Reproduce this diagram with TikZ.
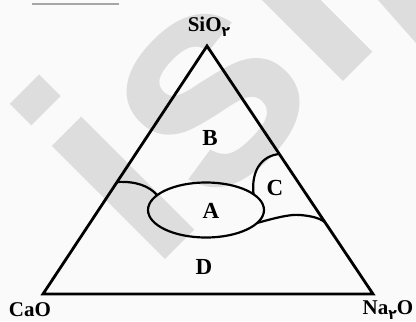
\documentclass[tikz,border=0pt]{standalone}
\usepackage{fontspec}
\setmainfont{Liberation Serif}
\newfontfamily\wmfont{Liberation Sans}
\newfontfamily\arabicfont[Script=Arabic]{DejaVu Sans}
\usetikzlibrary{positioning}
\definecolor{wmgray}{RGB}{221,221,221}
\definecolor{bggray}{RGB}{250,250,250}
\newcommand{\faTwo}{\raisebox{-0.5ex}{\fontsize{7}{8}\selectfont\arabicfont ۲}}

\begin{document}
\begin{tikzpicture}[x=0.5pt,y=-0.5pt,every node/.style={font=\bfseries\fontsize{10.5}{12}\selectfont}]
\tikzstyle{border}=[line width=1.4pt,line join=miter]
\tikzstyle{phase}=[line width=1.1pt]
\tikzstyle{region}=[inner sep=0pt,font=\bfseries\fontsize{11.5}{13}\selectfont]
\useasboundingbox[fill=bggray] (0,0) rectangle (416,321);
% watermark
\begin{scope}
\clip (0,0) rectangle (416,321);
\node[text=wmgray,font=\wmfont\bfseries\fontsize{151.5}{151.5}\selectfont,anchor=base west,inner sep=0pt,rotate=45] (wm) at (150,275) {isi};
\fill[wmgray] (378,0) -- (416,0) -- (416,43) -- cycle;
\end{scope}
\draw[gray!70,line width=1pt] (32,4) -- (119,4);
% triangle
\coordinate (top) at (207,46);
\coordinate (cao) at (43,294);
\coordinate (na) at (373,294);
\draw[border] (top) -- (na) -- (cao) -- cycle;
\node (sio) at (209,27) {SiO\faTwo};
\node (caol) at (30,310) {CaO};
\node (nal) at (388,310) {Na\faTwo O};
% phase fields
\draw[phase] (206,210) ellipse [x radius=58,y radius=27.5];
\coordinate (p1) at (117,182);
\coordinate (j1) at (157,195);
\coordinate (q1) at (279,154);
\coordinate (j2) at (253.5,194);
\coordinate (j3) at (257,223);
\coordinate (q2) at (325,222);
\draw[phase] (p1) .. controls (136,181) and (149,186) .. (j1);
\draw[phase] (q1) .. controls (262,156) and (251,170) .. (j2);
\draw[phase] (j3) .. controls (275,218) and (290,214) .. (300,215) .. controls (312,216) and (319,218) .. (q2);
\node[region] (b) at (210,138) {B};
\node[region] (a) at (211,211) {A};
\node[region] (c) at (275,188) {C};
\node[region] (d) at (204,267) {D};
\end{tikzpicture}
\end{document}
